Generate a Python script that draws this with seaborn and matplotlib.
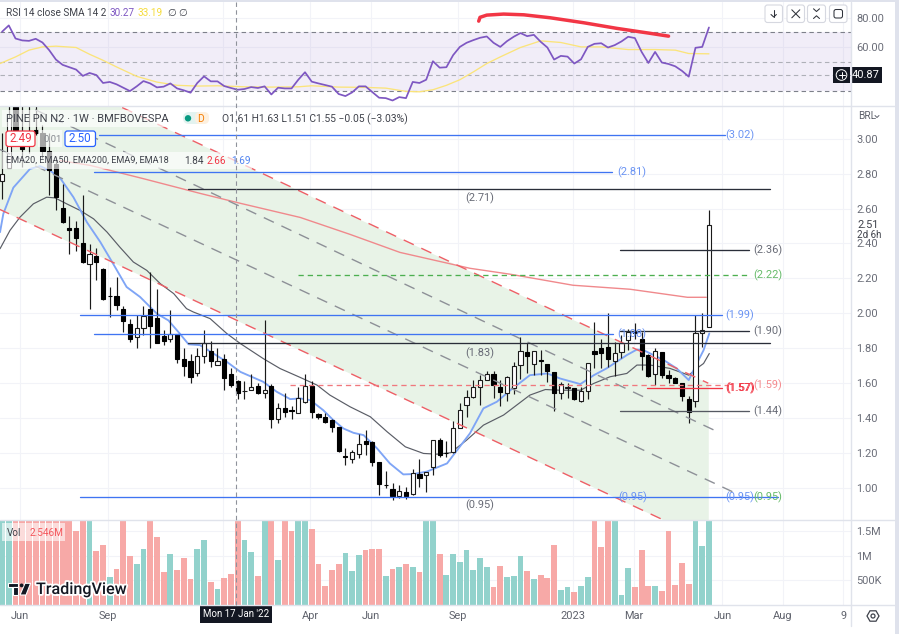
import numpy as np
import pandas as pd
import seaborn as sns
import matplotlib
matplotlib.use("Agg")
import matplotlib.pyplot as plt
from matplotlib.patches import Rectangle, FancyBboxPatch, Circle, Polygon, RegularPolygon
import matplotlib.patheffects as pe

# Weekly bars, oldest first
opens = [2.757, 2.83, 3.19, 3.03, 3.03, 3.05, 3.03, 2.93, 2.856, 2.604,
         2.49, 2.49, 2.402, 2.284, 2.326, 2.256, 2.10, 2.101, 2.025, 1.938,
         1.862, 1.919, 2.024, 1.976, 1.869, 1.854, 1.879, 1.736, 1.728, 1.66,
         1.755, 1.783, 1.707, 1.736, 1.652, 1.612, 1.553, 1.56, 1.583, 1.545,
         1.583, 1.398, 1.459, 1.445, 1.427, 1.494, 1.583, 1.421, 1.408, 1.389,
         1.351, 1.18, 1.166, 1.196, 1.267, 1.265, 1.151, 1.016, 0.994, 0.956,
         0.975, 0.964, 1.082, 1.073, 1.118, 1.275, 1.20, 1.204, 1.341, 1.478,
         1.522, 1.58, 1.621, 1.65, 1.576, 1.545, 1.574, 1.707, 1.776, 1.709,
         1.733, 1.709, 1.662, 1.545, 1.575, 1.574, 1.496, 1.555, 1.786, 1.803,
         1.806, 1.728, 1.776, 1.85, 1.897, 1.856, 1.761, 1.65, 1.776, 1.646,
         1.629, 1.601, 1.509, 1.498, 1.888, 1.921]
highs = [3.03, 3.22, 3.25, 3.20, 3.22, 3.22, 3.08, 3.03, 2.90, 2.74,
         2.557, 2.528, 2.679, 2.398, 2.374, 2.26, 2.151, 2.208, 2.04, 1.97,
         1.989, 2.04, 2.236, 2.141, 1.903, 2.018, 1.88, 1.802, 1.77, 1.802,
         1.907, 1.841, 1.802, 1.77, 1.69, 1.618, 1.612, 1.652, 1.602, 1.96,
         1.593, 1.484, 1.545, 1.469, 1.58, 1.65, 1.612, 1.431, 1.427, 1.393,
         1.351, 1.227, 1.217, 1.307, 1.332, 1.271, 1.151, 1.099, 1.03, 1.017,
         1.008, 1.107, 1.166, 1.092, 1.273, 1.284, 1.271, 1.385, 1.484, 1.564,
         1.618, 1.646, 1.669, 1.669, 1.618, 1.64, 1.722, 1.862, 1.831, 1.786,
         1.79, 1.709, 1.662, 1.608, 1.60, 1.574, 1.576, 1.717, 1.951, 1.856,
         2.00, 1.837, 1.875, 1.913, 1.942, 1.894, 1.77, 1.799, 1.78, 1.675,
         1.637, 1.601, 1.528, 1.99, 2.00, 2.59]
lows = [2.656, 2.83, 3.03, 2.84, 2.92, 3.02, 2.89, 2.675, 2.59, 2.52,
        2.337, 2.357, 2.29, 2.027, 2.189, 2.075, 1.98, 2.017, 1.894, 1.837,
        1.804, 1.875, 1.804, 1.83, 1.818, 1.837, 1.713, 1.64, 1.602, 1.64,
        1.717, 1.694, 1.703, 1.564, 1.576, 1.507, 1.507, 1.56, 1.537, 1.513,
        1.345, 1.37, 1.408, 1.393, 1.427, 1.488, 1.402, 1.398, 1.374, 1.322,
        1.208, 1.132, 1.141, 1.17, 1.189, 1.128, 0.96, 0.998, 0.931, 0.941,
        0.937, 0.96, 1.008, 0.979, 1.074, 1.179, 1.179, 1.198, 1.341, 1.408,
        1.517, 1.475, 1.62, 1.517, 1.471, 1.499, 1.541, 1.623, 1.656, 1.646,
        1.646, 1.608, 1.442, 1.509, 1.513, 1.503, 1.494, 1.509, 1.685, 1.685,
        1.694, 1.643, 1.742, 1.789, 1.856, 1.675, 1.637, 1.589, 1.631, 1.603,
        1.599, 1.50, 1.374, 1.462, 1.808, 1.921]
closes = [2.80, 3.12, 3.05, 2.94, 3.03, 3.03, 2.93, 2.82, 2.665, 2.522,
          2.48, 2.43, 2.294, 2.341, 2.294, 2.082, 2.097, 2.046, 1.957, 1.852,
          1.919, 1.985, 1.926, 1.831, 1.842, 1.879, 1.736, 1.698, 1.637, 1.755,
          1.831, 1.728, 1.728, 1.631, 1.589, 1.545, 1.553, 1.576, 1.545, 1.564,
          1.398, 1.459, 1.437, 1.442, 1.513, 1.583, 1.437, 1.408, 1.379, 1.351,
          1.212, 1.179, 1.204, 1.254, 1.254, 1.151, 1.021, 1.015, 0.956, 0.983,
          0.956, 1.084, 1.059, 1.092, 1.273, 1.189, 1.198, 1.341, 1.446, 1.522,
          1.576, 1.621, 1.65, 1.589, 1.551, 1.633, 1.70, 1.785, 1.755, 1.786,
          1.73, 1.669, 1.545, 1.593, 1.58, 1.507, 1.555, 1.717, 1.768, 1.774,
          1.736, 1.774, 1.828, 1.896, 1.89, 1.757, 1.641, 1.787, 1.646, 1.631,
          1.601, 1.528, 1.437, 1.888, 1.907, 2.506]

# Volume in millions; tall bars run past the top of the pane
volumes = [2.4, 2.2, 2.6, 2.3, 2.1, 2.0, 1.9, 2.2, 2.0, 1.85,
           1.9, 1.49, 2.3, 1.95, 1.10, 1.22, 0.57, 0.73, 1.85, 0.99,
           0.82, 1.135, 1.95, 1.37, 0.67, 1.03, 0.70, 0.96, 0.52, 1.13,
           1.31, 0.47, 0.32, 0.55, 0.63, 1.8, 1.32, 1.07, 0.59, 1.9,
           2.2, 0.91, 1.85, 1.49, 1.9, 2.0, 1.54, 0.83, 0.385, 0.70,
           0.82, 1.05, 0.69, 1.02, 1.115, 1.135, 1.13, 0.59, 0.73, 0.77,
           0.83, 0.76, 0.67, 1.8, 1.9, 1.03, 0.61, 1.03, 0.88, 1.12,
           0.70, 0.95, 0.76, 0.365, 0.79, 0.56, 0.58, 1.0, 0.69, 0.53,
           0.61, 0.55, 1.22, 0.30, 0.365, 0.26, 0.385, 0.57, 1.95, 1.18,
           2.1, 1.9, 0.20, 0.75, 0.365, 1.115, 0.385, 0.385, 0.28, 1.5,
           0.40, 0.84, 0.425, 1.9, 1.19, 2.546]
volume_side = list("uudddddddd" "dddudduddd" "uudddudddu" "ududdduudu" "dudduudddd"
                   "duuudddudu" "duduuduuuu" "uuudduuudu" "ddduuduudd" "duuudddudd" "ddduuu")

rsi_values = [70.5, 74.8, 65.9, 64.6, 64.3, 65.7, 63.2, 58.0, 51.6, 48.0,
              46.4, 44.8, 40.5, 42.5, 41.1, 35.7, 36.4, 34.8, 32.5, 30.2,
              33.4, 37.0, 35.4, 32.7, 33.2, 35.4, 32.0, 30.7, 29.1, 35.7,
              40.2, 36.8, 36.8, 33.6, 32.3, 31.1, 31.6, 32.9, 32.3, 33.4,
              27.9, 32.5, 32.0, 32.0, 37.9, 43.0, 36.6, 35.4, 34.3, 33.2,
              28.2, 26.8, 29.3, 33.4, 33.4, 29.5, 25.7, 25.4, 23.8, 26.1,
              25.4, 36.4, 35.7, 37.9, 50.5, 46.1, 46.4, 54.6, 60.2, 63.0,
              64.8, 66.4, 67.3, 63.0, 60.2, 64.1, 67.1, 69.6, 67.5, 68.4,
              63.7, 59.8, 51.6, 54.1, 53.6, 48.9, 51.8, 60.2, 62.3, 62.7,
              59.8, 61.4, 63.9, 67.1, 66.2, 56.8, 49.3, 56.8, 49.6, 48.6,
              47.0, 43.9, 40.0, 59.6, 60.2, 73.4]
rsi_ma_bars = [-0.3, 2, 4, 6, 8, 11, 13, 15, 17, 20, 23, 26, 29, 32, 36, 40, 44, 46, 50, 54,
               57, 60, 62, 64, 66, 68, 70, 72, 74, 77, 80, 83, 86, 89, 93, 97, 100, 102, 105]
rsi_ma_values = [48.9, 53.4, 58.0, 60.2, 60.7, 59.8, 55.2, 51.1, 46.6, 40.2, 36.3, 34.1, 33.6, 33.8,
                 33.1, 32.9, 33.1, 33.8, 32.9, 32.7, 32.2, 30.0, 29.7, 31.1, 34.1, 37.9, 43.2,
                 48.9, 53.4, 59.8, 64.3, 63.2, 60.2, 60.2, 58.4, 58.4, 58.0, 55.7, 55.5]
rsi_stroke_bars = [70.8, 71, 72, 74.5, 77.5, 81.4, 86.4, 91.3, 96.3, 99]
rsi_stroke_values = [77.7, 80.3, 81.8, 82.5, 82.0, 80.0, 76.6, 72.8, 69.4, 67.5]

# Moving averages sampled along their curves
ema9_bars = [-0.3, 0.19, 1.68, 4.15, 5.64, 7.1, 8.6, 10.6, 12.6, 14.6, 16.5, 18.5, 20.5, 23, 24.7, 26.4,
             27.7, 29.4, 31.4, 33.4, 35.4, 38.8, 40.8, 42.8, 44.3, 45.8, 47.7, 49.2, 50.7, 52.2, 53.7,
             55.7, 57.6, 59.6, 61.1, 63.1, 66.1, 67.6, 69.5, 71.5, 73.5, 75.5, 78.4, 81, 82.9, 85.9,
             87.9, 89.8, 92.8, 94.3, 95.3, 98.3, 100.2, 102, 103.2, 104.2, 105.05]
ema9_values = [2.465, 2.57, 2.72, 2.827, 2.843, 2.818, 2.776, 2.665, 2.522, 2.408, 2.284, 2.151, 2.094,
               1.998, 1.96, 1.884, 1.823, 1.818, 1.77, 1.722, 1.665, 1.608, 1.551, 1.509, 1.513, 1.503,
               1.446, 1.389, 1.341, 1.316, 1.303, 1.227, 1.141, 1.078, 1.08, 1.094, 1.141, 1.217, 1.313,
               1.456, 1.494, 1.56, 1.646, 1.656, 1.627, 1.595, 1.646, 1.685, 1.761, 1.793, 1.789, 1.732,
               1.685, 1.618, 1.713, 1.789, 1.885]
ema18_bars = [-0.3, 1.18, 2.67, 4.65, 6.63, 7.87, 9.6, 11.6, 13.6, 15.6, 17.5, 19.5, 21.5, 23.5, 25.5, 27.4,
              28.4, 30.9, 33.4, 35.4, 38.8, 41.3, 44.3, 46.8, 48.7, 51.7, 54.7, 57.2, 59.9, 62.6, 64.6,
              66.6, 69, 71.5, 74.5, 78.4, 80.7, 82.9, 85.9, 87.9, 90.3, 92.8, 94.3, 96.3, 99.2, 102,
              103.2, 104.2, 105.05]
ema18_values = [2.37, 2.475, 2.551, 2.627, 2.665, 2.661, 2.627, 2.589, 2.541, 2.465, 2.379, 2.294, 2.246,
                2.17, 2.113, 2.027, 2.008, 1.97, 1.884, 1.827, 1.741, 1.684, 1.633, 1.589, 1.532, 1.465,
                1.408, 1.322, 1.236, 1.198, 1.194, 1.202, 1.274, 1.36, 1.418, 1.532, 1.564, 1.56, 1.56,
                1.599, 1.637, 1.656, 1.704, 1.704, 1.685, 1.646, 1.685, 1.713, 1.77]
ema200_bars = [8.6, 13.1, 20.9, 29.4, 35.4, 44.3, 51.7, 59.1, 69.5, 75.5, 84.8, 93.3, 101.8, 104.6]
ema200_values = [2.875, 2.847, 2.772, 2.687, 2.63, 2.549, 2.452, 2.349, 2.258, 2.224, 2.161, 2.138, 2.092, 2.092]

# Channel: bar and price at each end of its four rails
channel_bars = [-1, 104.9]
channel_upper = [3.52, 1.60]
channel_lower = [2.607, 0.697]
rail_a_bars, rail_a_prices = [-0.3, 106.4], [3.261, 1.32]
rail_b_bars, rail_b_prices = [-0.3, 108.6], [2.938, 0.977]

# Horizontal levels: price, first bar, last bar, colour, dashes
BLUE, INK, RED, GREEN = "#3f74f2", "#2a2e39", "#f23645", "#4caf50"
level_prices = [3.02, 2.81, 2.71, 2.36, 2.22, 1.99, 1.90, 1.88, 1.83, 1.59, 1.57, 1.44, 0.95]
level_starts = [14.4, 13.7, 27.6, 91.8, 44.0, 11.6, 91.8, 13.7, 27.6, 42.8, 95.8, 91.8, 11.6]
level_ends = [107.4, 90.6, 114.1, 111.0, 111.0, 107.0, 111.0, 90.8, 114.0, 107.7, 107.0, 111.0, 115.2]
level_colors = [BLUE, BLUE, INK, INK, GREEN, BLUE, INK, BLUE, INK, "#f0787e", RED, "#555962", BLUE]
level_styles = ["-", "-", "-", "-", (0, (4, 3)), "-", "-", "-", "-", (0, (4, 3)), "-", "-", "-"]

# Level captions: text, bar, price, colour
caption_texts = ["(3.02)", "(2.81)", "(2.71)", "(2.36)", "(2.22)", "(1.99)", "(1.90)", "(1.88)", "(1.83)",
                 "(1.59)", "(1.57)", "(1.57)", "(1.44)", "(0.95)", "(0.95)", "(0.95)", "(0.95)"]
caption_bars = [109.6, 93.6, 70.9, 113.7, 113.7, 109.6, 113.7, 93.6, 70.9,
                113.7, 109.6, 109.65, 113.7, 70.9, 93.6, 109.6, 113.7]
caption_prices = [3.02, 2.81, 2.66, 2.36, 2.22, 1.99, 1.90, 1.88, 1.77,
                  1.59, 1.57, 1.57, 1.44, 0.90, 0.95, 0.95, 0.95]
GREY_TXT, BLUE_TXT = "#686b76", "#6b94f3"
caption_colors = [BLUE_TXT, BLUE_TXT, GREY_TXT, GREY_TXT, "#66bb6a", BLUE_TXT, GREY_TXT, BLUE_TXT, GREY_TXT,
                  "#f58a8e", RED, RED, GREY_TXT, GREY_TXT, BLUE_TXT, BLUE_TXT, "#66bb6a"]

# Time axis
date_ticks = [2.67, 15.74, 32.8, 45.76, 54.8, 67.75, 84.8, 93.9, 107, 116, 124.96]
date_labels = ["Jun", "Sep", "", "Apr", "Jun", "Sep", "2023", "Mar", "Jun", "Aug", "9"]
price_ticks = [1.0, 1.2, 1.4, 1.6, 1.8, 2.0, 2.2, 2.4, 2.6, 2.8, 3.0]
volume_ticks = [0.5, 1.0, 1.5]
volume_labels = ["500K", "1M", "1.5M"]
rsi_ticks = [60, 80]
rsi_bounds = [70, 30]
rsi_inner_levels = [50, 41.3]

FRAME, GRID = "#e0e3eb", "#f2f3f8"
sns.set_theme(style="white", rc={"axes.facecolor": "none", "figure.facecolor": "white"})
plt.rcParams["font.family"] = ["Roboto", "DejaVu Sans"]
TICK = 7.9
SMALL = 7.1

W, H = 899, 634
fig = plt.figure(figsize=(W / 100, H / 100), dpi=100)


def pane(top, bottom):
    return fig.add_axes([0, 1 - bottom / H, 851 / W, (bottom - top) / H])


ax_rsi, ax_price, ax_vol = pane(2, 105.5), pane(105.5, 520), pane(520, 605)
bar_index = np.arange(len(closes))
xlim = (-0.305, 126.1)

# Volume pane
vol_frame = pd.DataFrame({"bar": bar_index, "vol": volumes, "side": volume_side})
sns.barplot(data=vol_frame, x="bar", y="vol", hue="side", dodge=False, native_scale=True,
            palette={"u": "#92d2cc", "d": "#f7a9a7"}, saturation=1, legend=False,
            errorbar=None, ax=ax_vol, zorder=3, linewidth=0)
for bar in ax_vol.patches:
    centre = bar.get_x() + bar.get_width() / 2
    bar.set_width(0.86)
    bar.set_x(centre - 0.43)
ax_vol.set_ylim(0, 1.72)
ax_vol.set_yticks(volume_ticks, volume_labels)

# RSI pane
ax_rsi.axhspan(rsi_bounds[1], rsi_bounds[0], color="#7e57c2", alpha=0.1, lw=0, zorder=1)
for level in rsi_bounds:
    ax_rsi.axhline(level, color="#7d808a", lw=0.8, ls=(0, (4, 3)), zorder=2)
for level in rsi_inner_levels:
    ax_rsi.axhline(level, color="#aeb0b8", lw=0.8, ls=(0, (4, 3)), zorder=2)
sns.lineplot(x=rsi_ma_bars, y=rsi_ma_values, color="#fbe47a", linewidth=0.95, ax=ax_rsi, zorder=3,
             estimator=None, errorbar=None)
sns.lineplot(x=bar_index, y=rsi_values, color="#7e57c2", linewidth=1.25, ax=ax_rsi, zorder=4,
             estimator=None, errorbar=None)
sns.lineplot(x=rsi_stroke_bars, y=rsi_stroke_values, color=RED, linewidth=2.5, ax=ax_rsi, zorder=5,
             estimator=None, errorbar=None)
ax_rsi.lines[-1].set_solid_capstyle("round")
ax_rsi.set_ylim(20.4, 90.7)
ax_rsi.set_yticks(rsi_ticks, [f"{t:.2f}" for t in rsi_ticks])

# Price pane: channel
ax_price.fill_between(channel_bars, channel_lower, channel_upper, color="#e8f3e7", lw=0, zorder=1)
for rail in (channel_upper, channel_lower):
    ax_price.plot(channel_bars, rail, color="#ee5f66", lw=1.0, ls=(0, (8, 6)), zorder=6)
ax_price.plot(rail_a_bars, rail_a_prices, color="#8d9097", lw=1.0, ls=(0, (8, 6)), zorder=6)
ax_price.plot(rail_b_bars, rail_b_prices, color="#8d9097", lw=1.0, ls=(0, (8, 6)), zorder=6)

# Moving averages sit beneath the candles
sns.lineplot(x=ema200_bars, y=ema200_values, color="#f0898c", linewidth=1.0, ax=ax_price, zorder=3,
             estimator=None, errorbar=None, sort=False)
sns.lineplot(x=ema18_bars, y=ema18_values, color="#5a5d66", linewidth=0.85, ax=ax_price, zorder=3,
             estimator=None, errorbar=None, sort=False)
sns.lineplot(x=ema9_bars, y=ema9_values, color="#7fa5f6", linewidth=1.35, ax=ax_price, zorder=3,
             estimator=None, errorbar=None, sort=False)

# Candles
o, h, l, c = map(np.asarray, (opens, highs, lows, closes))
ax_price.vlines(bar_index, l, h, color="#1a1a1a", lw=0.85, zorder=4)
rising = c >= o
body_low = np.minimum(o, c)
body_height = np.maximum(np.abs(c - o), 0.004)
ax_price.bar(bar_index[rising], body_height[rising], bottom=body_low[rising], width=0.62,
             facecolor="white", edgecolor="#1a1a1a", lw=0.8, zorder=5)
ax_price.bar(bar_index[~rising], body_height[~rising], bottom=body_low[~rising], width=0.62,
             facecolor="black", edgecolor="black", lw=0.8, zorder=5)

# Levels and their captions
for p, a, b, col, ls in zip(level_prices, level_starts, level_ends, level_colors, level_styles):
    ax_price.plot([a, b], [p, p], color=col, lw=0.95, ls=ls, zorder=6)
for text, b, p, col in zip(caption_texts, caption_bars, caption_prices, caption_colors):
    ax_price.text(b, p, text, color=col, fontsize=TICK, ha="center", va="center", zorder=6)
ax_price.set_ylim(0.817, 3.19)
ax_price.set_yticks(price_ticks, [f"{t:.2f}" for t in price_ticks])

for ax in (ax_rsi, ax_price, ax_vol):
    ax.set_xlim(*xlim)
    ax.set_xlabel("")
    ax.set_ylabel("")
    ax.set_xticks(date_ticks)
    ax.grid(True, color=GRID, lw=0.8, zorder=0)
    ax.set_axisbelow(True)
    ax.yaxis.tick_right()
    ax.tick_params(axis="y", length=0, pad=4, labelsize=TICK, labelcolor="#6a6d78")
    ax.tick_params(axis="x", length=0, labelbottom=False)
    for spine in ax.spines.values():
        spine.set_visible(False)
ax_vol.set_xticklabels(date_labels)
ax_vol.tick_params(axis="x", labelbottom=True, labelsize=TICK, labelcolor="#5f626c", pad=4.5)

# Chart furniture laid out in pixel space
ov = fig.add_axes([0, 0, 1, 1], zorder=10)
ov.set_xlim(0, W)
ov.set_ylim(H, 0)
ov.axis("off")


def label(x, y, text, color="#3f424b", size=SMALL, **kw):
    kw.setdefault("ha", "left")
    kw.setdefault("va", "center")
    return ov.text(x, y, text, color=color, fontsize=size, **kw)


# Pane frames and window edges
ov.add_patch(Rectangle((895, 0), 4, H, color="#dfe2ec", lw=0))
ov.add_patch(Rectangle((0, 0), W, 1.6, color="#dfe2ec", lw=0))
for y in (105.5, 520.3, 605.3):
    ov.plot([0, 895], [y, y], color=FRAME, lw=1.0)
ov.plot([850.8, 850.8], [2, 626], color=FRAME, lw=1.0)

# Crosshair and its date tag
ov.plot([236.3, 236.3], [2, 605], color="#8f929b", lw=0.8, ls=(0, (4, 3)))
ov.add_patch(Rectangle((200, 605), 72, 18, color="#131722", lw=0))
label(236, 614, "Mon 17 Jan '22", color="white", ha="center", size=7.0)

# Legends over translucent plates
ov.add_patch(Rectangle((2, 110), 170, 17, color="white", alpha=0.65, lw=0))
ov.add_patch(Rectangle((2, 152), 250, 17, color="white", alpha=0.65, lw=0))
ov.add_patch(Rectangle((38, 130), 24, 17, color="white", alpha=0.65, lw=0))
ov.add_patch(Rectangle((2, 523), 63, 18, color="white", alpha=0.6, lw=0))

label(6.5, 13.5, "RSI 14 close SMA 14 2", size=7.2)
label(109, 13, "30.27", color="#7e57c2", size=7.2)
label(138, 13, "33.19", color="#f5dc3c", size=7.2)
label(167, 13, "\u2205", size=7.2)
label(178, 13, "\u2205", size=7.2)
label(6.5, 118.5, "PINE PN N2 \u00b7 1W \u00b7 BMFBOVESPA", size=8.0)
label(222, 119, "O1.61 H1.63 L1.51 C1.55 \u22120.05 (\u22123.03%)", size=7.4)
ov.add_patch(FancyBboxPatch((183, 112), 24, 12, boxstyle="round,pad=0,rounding_size=6", fc="#e3f3f0", ec="none"))
ov.add_patch(FancyBboxPatch((195, 112), 14, 12, boxstyle="round,pad=0,rounding_size=5", fc="#fdf0df", ec="none"))
ov.add_patch(Circle((188, 118.3), 3.2, color="#089981", lw=0))
label(201, 118.5, "D", color="#f57c00", ha="center", size=7.4)
ov.add_patch(FancyBboxPatch((6, 131), 29, 15.5, boxstyle="round,pad=0,rounding_size=2.5", fc="white", ec=RED, lw=0.9))
label(20.5, 139, "2.49", color=RED, ha="center", size=8.4)
label(43, 139, "0.01", color="#85888f", size=6.8)
ov.add_patch(FancyBboxPatch((65, 131), 30.5, 15.5, boxstyle="round,pad=0,rounding_size=2.5", fc="white", ec="#2962ff", lw=0.9))
label(80, 139, "2.50", color="#2962ff", ha="center", size=8.4)
label(6.5, 160.5, "EMA20, EMA50, EMA200, EMA9, EMA18", size=6.6)
label(184, 160.5, "1.84", size=7.2)
label(207, 160.5, "2.66", color=RED, size=7.2)
label(231, 160.5, "1.69", color="#4f82f0", size=7.2)
label(6.5, 533.5, "Vol")
label(30, 533.5, "2.546M", color="#f4565c", size=7.2)

# Right-hand read-outs
label(858, 116, "BRL", color="#5f626c", size=7.3)
ov.plot([875, 877, 879], [115.5, 117.5, 115.5], color="#5f626c", lw=0.7)
label(857, 224.5, "2.51", color="#3f424b", size=TICK)
label(857, 235.5, "2d 6h", color="#3f424b", size=7.0)
ov.add_patch(Rectangle((850.8, 67), 31, 15.5, color="#131722", lw=0))
label(866, 75, "40.87", color="white", ha="center", size=TICK)
ov.add_patch(Rectangle((833, 67), 17, 15.5, color="#131722", lw=0))
ov.add_patch(Circle((841.5, 75), 5.3, fc="none", ec="white", lw=0.7))
ov.plot([838.5, 844.5], [75, 75], color="white", lw=0.7)
ov.plot([841.5, 841.5], [72, 78], color="white", lw=0.7)

# Pane buttons
button_left = (765, 787, 807.5, 829.5)
button_width = (17.5, 17.5, 18, 17.5)
for x, width in zip(button_left, button_width):
    ov.add_patch(FancyBboxPatch((x, 5), width, 17.5, boxstyle="round,pad=0,rounding_size=2.5",
                                fc="white", ec="#d6d8e0", lw=0.8))
ink = dict(color="#2f323a", lw=0.75)
ov.plot([773.7, 773.7], [9.5, 17], **ink)
ov.plot([771, 773.7, 776.4], [14.5, 17, 14.5], **ink)
ov.plot([791.8, 799.8], [9.8, 17.8], **ink)
ov.plot([791.8, 799.8], [17.8, 9.8], **ink)
ov.plot([813.5, 816.5, 819.5], [8.8, 11.5, 8.8], **ink)
ov.plot([813.5, 816.5, 819.5], [18.5, 15.8, 18.5], **ink)
ov.add_patch(FancyBboxPatch((834, 9.5), 8.5, 8.5, boxstyle="round,pad=0,rounding_size=2", fc="none", ec="#2f323a", lw=0.75))

# Scale settings button
ov.add_patch(RegularPolygon((873, 616), 6, radius=6, orientation=np.pi / 6, fc="none", ec="#3f424b", lw=0.9))
ov.add_patch(Circle((873, 616), 2, fc="none", ec="#3f424b", lw=0.9))

# Wordmark
halo = [pe.withStroke(linewidth=2.6, foreground="white")]
logo = [Rectangle((8.3, 583.3), 10, 4, fc="#131722", ec="white", lw=0.8),
        Rectangle((13.3, 587), 5, 8, fc="#131722", ec="white", lw=0.8),
        Polygon([(25, 583.3), (30.6, 583.3), (26, 595), (20, 595)], fc="#131722", ec="white", lw=0.8),
        Circle((21.6, 585.4), 1.9, fc="#131722", ec="none")]
for shape in logo:
    ov.add_patch(shape)
label(36, 589.5, "TradingView", color="#131722", size=11.6, fontweight="medium", path_effects=halo)

fig.savefig("out.png", dpi=100)
